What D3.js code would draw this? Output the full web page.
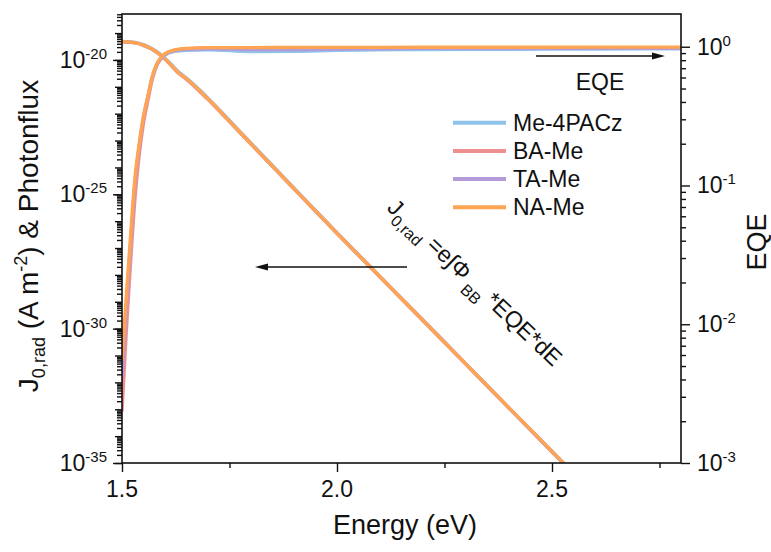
<!DOCTYPE html>
<html>
<head>
<meta charset="utf-8">
<script src="https://cdn.jsdelivr.net/npm/d3@7"></script>
<style>
  body { margin: 0; background: #fff; }
  svg text { font-family: Arial, "Liberation Sans", sans-serif; fill: #111; }
</style>
</head>
<body>
<svg id="chart" width="771" height="552"></svg>
<script>
// ---- data ----
var seriesNames = ["Me-4PACz", "BA-Me", "TA-Me", "NA-Me"];
var seriesColors = ["#8ec3ea", "#ef9090", "#b59ad9", "#ffa452"];

// EQE (right axis)
var energyEQE = [1.50, 1.51, 1.52, 1.53, 1.54, 1.55, 1.56, 1.57, 1.58, 1.59, 1.60, 1.62, 1.65, 1.70, 1.80, 1.90, 2.00, 2.20, 2.40, 2.60, 2.80];
var eqeMe4PACz = [0.00398, 0.0126, 0.0372, 0.100, 0.186, 0.302, 0.427, 0.589, 0.724, 0.813, 0.871, 0.923, 0.944, 0.951, 0.923, 0.927, 0.942, 0.955, 0.959, 0.964, 0.966];
var eqeBAMe    = [0.00234, 0.0089, 0.0282, 0.0794, 0.166, 0.282, 0.407, 0.575, 0.724, 0.822, 0.881, 0.938, 0.966, 0.979, 0.977, 0.977, 0.979, 0.982, 0.982, 0.984, 0.984];
var eqeTAMe    = [0.00417, 0.0132, 0.0380, 0.102, 0.191, 0.309, 0.432, 0.596, 0.733, 0.822, 0.881, 0.933, 0.959, 0.968, 0.955, 0.955, 0.964, 0.973, 0.975, 0.977, 0.977];
var eqeNAMe    = [0.00550, 0.0158, 0.0437, 0.112, 0.200, 0.316, 0.437, 0.603, 0.741, 0.832, 0.891, 0.944, 0.973, 0.986, 0.986, 0.989, 0.989, 0.991, 0.991, 0.993, 0.993];

// J0,rad integrand (left axis)
var energyJ = [1.50, 1.53, 1.55, 1.57, 1.59, 1.61, 1.63, 1.65, 1.70, 1.75, 1.80, 1.90, 2.00, 2.10, 2.20, 2.30, 2.40, 2.50, 2.60];
var jMe4PACz = [4.9e-20, 4.5e-20, 3.7e-20, 2.6e-20, 1.6e-20, 8.1e-21, 3.8e-21, 2.1e-21, 3.8e-22, 5.6e-23, 8.0e-24, 1.7e-25, 3.7e-27, 8.6e-29, 2.1e-30, 4.8e-32, 1.1e-33, 2.6e-35, 6.2e-37];
var jBAMe    = [4.7e-20, 4.3e-20, 3.5e-20, 2.5e-20, 1.5e-20, 7.4e-21, 3.4e-21, 1.9e-21, 3.4e-22, 5.1e-23, 7.4e-24, 1.6e-25, 3.5e-27, 8.4e-29, 2.0e-30, 4.7e-32, 1.1e-33, 2.6e-35, 6.2e-37];
var jTAMe    = [4.8e-20, 4.4e-20, 3.5e-20, 2.5e-20, 1.5e-20, 7.6e-21, 3.5e-21, 2.0e-21, 3.5e-22, 5.2e-23, 7.6e-24, 1.62e-25, 3.55e-27, 8.5e-29, 2.0e-30, 4.8e-32, 1.12e-33, 2.7e-35, 6.3e-37];
var jNAMe    = [4.8e-20, 4.4e-20, 3.55e-20, 2.5e-20, 1.5e-20, 7.6e-21, 3.5e-21, 2.0e-21, 3.5e-22, 5.2e-23, 7.6e-24, 1.63e-25, 3.55e-27, 8.5e-29, 2.0e-30, 4.8e-32, 1.12e-33, 2.7e-35, 6.3e-37];

var eqeSeries = [eqeMe4PACz, eqeBAMe, eqeTAMe, eqeNAMe];
var jSeries = [jMe4PACz, jBAMe, jTAMe, jNAMe];

var xTicks = [1.5, 2.0, 2.5];
var xMinor = [1.75, 2.25, 2.75];
var leftLabelExp = [-35, -30, -25, -20];
var rightLabelExp = [-3, -2, -1, 0];

// ---- layout ----
var plotL = 122, plotR = 681, plotT = 14, plotB = 463;

var svg = d3.select("#chart");

var x = d3.scaleLinear().domain([1.5, 2.8]).range([plotL, plotR]);
var yL = d3.scaleLog().domain([1e-35, Math.pow(10, -18.29)]).range([plotB, plotT]);
var yR = d3.scaleLog().domain([1e-3, Math.pow(10, 0.236)]).range([plotB, plotT]);

svg.append("clipPath").attr("id", "plot")
    .append("rect").attr("x", plotL).attr("y", plotT)
    .attr("width", plotR - plotL).attr("height", plotB - plotT);

function place(sel, px, py, rot) {
    sel.attr("transform", "translate(" + px + "," + py + ")" + (rot ? " rotate(" + rot + ")" : ""));
    return sel;
}

// ---- curves ----
var curves = svg.append("g").attr("clip-path", "url(#plot)");

jSeries.forEach(function (vals, i) {
    var line = d3.line()
        .x(function (d, k) { return x(energyJ[k]); })
        .y(function (d) { return yL(d); })
        .curve(d3.curveMonotoneX);
    curves.append("path")
        .attr("d", line(vals))
        .attr("fill", "none")
        .attr("stroke", seriesColors[i])
        .attr("stroke-width", 3.4);
});

eqeSeries.forEach(function (vals, i) {
    var line = d3.line()
        .x(function (d, k) { return x(energyEQE[k]); })
        .y(function (d) { return yR(d); })
        .curve(d3.curveMonotoneX);
    curves.append("path")
        .attr("d", line(vals))
        .attr("fill", "none")
        .attr("stroke", seriesColors[i])
        .attr("stroke-width", 3.4);
});

// ---- axes ----
function minorLog(lo, hi) {
    var out = [];
    for (var d = lo; d <= hi; d++) {
        for (var k = 2; k <= 9; k++) out.push(k * Math.pow(10, d));
    }
    return out;
}
var leftDecades = d3.range(-35, -18).map(function (e) { return Math.pow(10, e); });
var leftMinor = minorLog(-35, -19).filter(function (v) { return v <= yL.domain()[1]; });
var rightMinor = minorLog(-3, 0).filter(function (v) { return v <= yR.domain()[1]; });

function styleAxis(g) {
    g.select(".domain").remove();
    g.selectAll("line").attr("stroke", "#111").attr("stroke-width", 1.4);
}

svg.append("g").attr("transform", "translate(" + plotL + ",0)")
    .call(d3.axisLeft(yL).tickValues(leftMinor).tickSize(5).tickFormat(""))
    .call(styleAxis);
svg.append("g").attr("transform", "translate(" + plotL + ",0)")
    .call(d3.axisLeft(yL).tickValues(leftDecades).tickSize(7).tickFormat(""))
    .call(styleAxis);
svg.append("g").attr("transform", "translate(" + plotL + ",0)")
    .call(d3.axisLeft(yL).tickValues(leftLabelExp.map(function (e) { return Math.pow(10, e); })).tickSize(9).tickFormat(""))
    .call(styleAxis);

svg.append("g").attr("transform", "translate(" + plotR + ",0)")
    .call(d3.axisRight(yR).tickValues(rightMinor).tickSize(5).tickFormat(""))
    .call(styleAxis);
svg.append("g").attr("transform", "translate(" + plotR + ",0)")
    .call(d3.axisRight(yR).tickValues(rightLabelExp.map(function (e) { return Math.pow(10, e); })).tickSize(9).tickFormat(""))
    .call(styleAxis);

svg.append("g").attr("transform", "translate(0," + plotB + ")")
    .call(d3.axisBottom(x).tickValues(xMinor).tickSize(5).tickFormat(""))
    .call(styleAxis);
svg.append("g").attr("transform", "translate(0," + plotB + ")")
    .call(d3.axisBottom(x).tickValues(xTicks).tickSize(9).tickFormat(""))
    .call(styleAxis);

// frame
svg.append("rect")
    .attr("x", plotL).attr("y", plotT)
    .attr("width", plotR - plotL).attr("height", plotB - plotT)
    .attr("fill", "none").attr("stroke", "#111").attr("stroke-width", 1.6);

// ---- tick labels ----
xTicks.forEach(function (v) {
    place(svg.append("text"), x(v), 497)
        .attr("text-anchor", "middle").attr("font-size", 23)
        .text(d3.format(".1f")(v));
});

function powLabel(px, py, exp, anchor) {
    var t = place(svg.append("text"), px, py)
        .attr("text-anchor", anchor).attr("font-size", 23);
    t.append("tspan").text("10");
    t.append("tspan").attr("font-size", 15).attr("dy", -9).text(exp);
    return t;
}
leftLabelExp.forEach(function (e) {
    powLabel(107, yL(Math.pow(10, e)) + 8, e, "end");
});
rightLabelExp.forEach(function (e) {
    powLabel(697, yR(Math.pow(10, e)) + 8, e, "start");
});

// ---- axis titles ----
place(svg.append("text"), 405, 534)
    .attr("text-anchor", "middle").attr("font-size", 27)
    .text("Energy (eV)");

var lt = place(svg.append("text"), 38, 236, -90)
    .attr("text-anchor", "middle").attr("font-size", 28);
lt.append("tspan").text("J");
lt.append("tspan").attr("font-size", 18).attr("dy", 7).text("0,rad");
lt.append("tspan").attr("dy", -7).text(" (A m");
lt.append("tspan").attr("font-size", 18).attr("dy", -11).text("-2");
lt.append("tspan").attr("dy", 11).text(") & Photonflux");

place(svg.append("text"), 766, 242, -90)
    .attr("text-anchor", "middle").attr("font-size", 27)
    .text("EQE");

// ---- legend ----
seriesNames.forEach(function (name, i) {
    var ly = 122.7 + i * 28.2;
    svg.append("line")
        .attr("x1", 453).attr("x2", 506).attr("y1", ly).attr("y2", ly)
        .attr("stroke", seriesColors[i]).attr("stroke-width", 4);
    place(svg.append("text"), 513, ly + 8)
        .attr("font-size", 23).text(name);
});

// ---- annotations ----
function arrow(x1, x2, ay) {
    var dir = x2 > x1 ? 1 : -1;
    svg.append("line")
        .attr("x1", x1).attr("x2", x2 - dir * 10).attr("y1", ay).attr("y2", ay)
        .attr("stroke", "#111").attr("stroke-width", 1.4);
    svg.append("path")
        .attr("d", "M" + x2 + "," + ay + " L" + (x2 - dir * 13) + "," + (ay - 3.5) +
            " L" + (x2 - dir * 13) + "," + (ay + 3.5) + " Z")
        .attr("fill", "#111");
}
arrow(407, 255, 267);
arrow(536, 665, 56);

place(svg.append("text"), 600, 90)
    .attr("text-anchor", "middle").attr("font-size", 23)
    .text("EQE");

var ann = place(svg.append("text"), 386, 209, 43.5).attr("font-size", 23);
ann.append("tspan").text("J");
ann.append("tspan").attr("font-size", 16).attr("dy", 7).text("0,rad");
ann.append("tspan").attr("dy", -7).text(" =e\u222B\u03A6");
ann.append("tspan").attr("font-size", 16).attr("dy", 9).text(" BB ");
ann.append("tspan").attr("dy", -9).text(" *EQE*dE");
</script>
</body>
</html>
